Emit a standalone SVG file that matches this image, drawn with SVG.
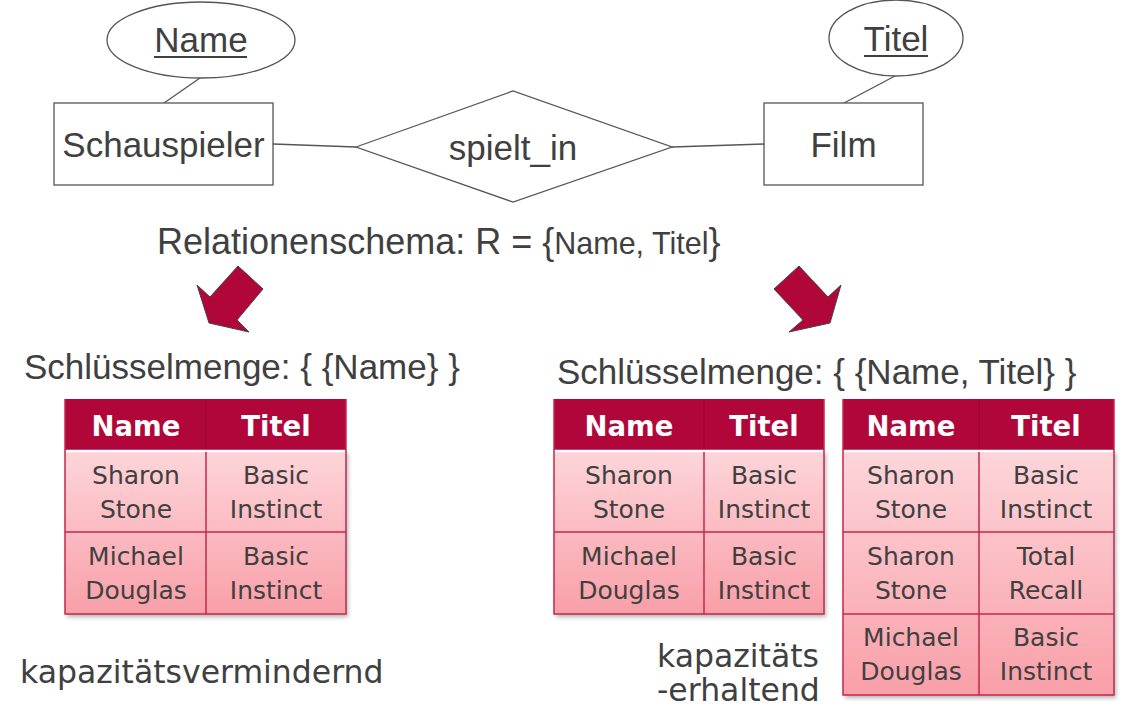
<svg xmlns="http://www.w3.org/2000/svg" width="1132" height="719" viewBox="0 0 1132 719">
<defs>
<style>
.er{fill:#fff;stroke:#555;stroke-width:1.3}
.ln{stroke:#555;stroke-width:1.3;fill:none}
.t{font-family:"Liberation Sans",Arial,sans-serif;fill:#404040}
.v{font-family:"DejaVu Sans",Verdana,sans-serif;fill:#404040}
.big{font-size:35px}
.hd{font-family:"DejaVu Sans",Verdana,sans-serif;font-weight:bold;font-size:27.5px;fill:#fff}
.cell{font-family:"DejaVu Sans",Verdana,sans-serif;font-size:25px;fill:#404040}
.hdr{fill:#b0063a}
.grid{stroke:#c4284f;stroke-width:1.5;fill:none}
.wl{stroke:#fff;stroke-width:2.5}
.arr{fill:#b0063a;stroke:#444;stroke-width:1}
</style>
<linearGradient id="body" x1="0" y1="0" x2="0" y2="1">
<stop offset="0" stop-color="#fdd6da"/>
<stop offset="1" stop-color="#f99fa8"/>
</linearGradient>
<filter id="sh" x="-5%" y="-5%" width="115%" height="115%">
<feDropShadow dx="2" dy="3" stdDeviation="2" flood-color="#000" flood-opacity="0.3"/>
</filter>
</defs>
<rect width="1132" height="719" fill="#fff"/>

<g id="connectors">
<line class="ln" x1="200" y1="78" x2="164" y2="103"/>
<line class="ln" x1="273" y1="144" x2="356" y2="147"/>
<line class="ln" x1="672" y1="147" x2="764" y2="144"/>
<line class="ln" x1="895" y1="76" x2="844" y2="103"/>
</g>

<g id="attr-name">
<ellipse class="er" cx="201" cy="40" rx="94" ry="38"/>
<text class="t big" x="201" y="52" text-anchor="middle">Name</text>
<line x1="154" y1="57" x2="247" y2="57" stroke="#404040" stroke-width="2"/>
</g>
<g id="entity-schauspieler">
<rect class="er" x="54" y="103" width="219" height="82"/>
<text class="t big" x="163.5" y="157" text-anchor="middle">Schauspieler</text>
</g>
<g id="rel-spielt_in">
<polygon class="er" points="356,147 513,91 672,147 513,202"/>
<text class="t big" x="513" y="160" text-anchor="middle">spielt_in</text>
</g>
<g id="entity-film">
<rect class="er" x="764" y="103" width="159" height="82"/>
<text class="t big" x="843.5" y="157" text-anchor="middle">Film</text>
</g>
<g id="attr-titel">
<ellipse class="er" cx="896" cy="38" rx="67" ry="38"/>
<text class="t big" x="896" y="51" text-anchor="middle">Titel</text>
<line x1="864" y1="56" x2="928" y2="56" stroke="#404040" stroke-width="2"/>
</g>

<g id="schema">
<text class="t" x="157" y="254" font-size="36">Relationenschema: R = {<tspan font-size="30.5">Name, Titel</tspan>}</text>
</g>

<g id="arrow-left">
<polygon class="arr" points="238,266 263,289 237,320 249,332 209,323 197,285 210,297"/>
</g>
<g id="arrow-right">
<polygon class="arr" points="799,266 774,289 803,320 789,332 830,323 841,285 828,297"/>
</g>

<g id="key-left">
<text class="t big" x="24" y="379">Schlüsselmenge: { {Name} }</text>
</g>
<g id="key-right">
<text class="t big" x="557" y="384">Schlüsselmenge: { {Name, Titel} }</text>
</g>

<g id="table1">
<g filter="url(#sh)">
<rect x="65" y="450" width="281" height="164" fill="url(#body)"/>
</g>
<rect class="hdr" x="65" y="399" width="281" height="51"/>
<line x1="206" y1="399" x2="206" y2="450" stroke="#9a0532" stroke-width="1"/>
<line class="wl" x1="66" y1="451" x2="345" y2="451"/>
<path class="grid" d="M65,399V614H346V399M206,452V614M65,532H346"/>
<text class="hd" x="136" y="436" text-anchor="middle">Name</text>
<text class="hd" x="276" y="436" text-anchor="middle">Titel</text>
<text class="cell" x="136" y="484" text-anchor="middle">Sharon</text>
<text class="cell" x="136" y="518" text-anchor="middle">Stone</text>
<text class="cell" x="276" y="484" text-anchor="middle">Basic</text>
<text class="cell" x="276" y="518" text-anchor="middle">Instinct</text>
<text class="cell" x="136" y="565" text-anchor="middle">Michael</text>
<text class="cell" x="136" y="599" text-anchor="middle">Douglas</text>
<text class="cell" x="276" y="565" text-anchor="middle">Basic</text>
<text class="cell" x="276" y="599" text-anchor="middle">Instinct</text>
</g>

<g id="table2">
<g filter="url(#sh)">
<rect x="554" y="450" width="270" height="164" fill="url(#body)"/>
</g>
<rect class="hdr" x="554" y="399" width="270" height="51"/>
<line x1="704" y1="399" x2="704" y2="450" stroke="#9a0532" stroke-width="1"/>
<line class="wl" x1="555" y1="451" x2="823" y2="451"/>
<path class="grid" d="M554,399V614H824V399M704,452V614M554,532H824"/>
<text class="hd" x="629" y="436" text-anchor="middle">Name</text>
<text class="hd" x="764" y="436" text-anchor="middle">Titel</text>
<text class="cell" x="629" y="484" text-anchor="middle">Sharon</text>
<text class="cell" x="629" y="518" text-anchor="middle">Stone</text>
<text class="cell" x="764" y="484" text-anchor="middle">Basic</text>
<text class="cell" x="764" y="518" text-anchor="middle">Instinct</text>
<text class="cell" x="629" y="565" text-anchor="middle">Michael</text>
<text class="cell" x="629" y="599" text-anchor="middle">Douglas</text>
<text class="cell" x="764" y="565" text-anchor="middle">Basic</text>
<text class="cell" x="764" y="599" text-anchor="middle">Instinct</text>
</g>

<g id="table3">
<g filter="url(#sh)">
<rect x="843" y="450" width="271" height="245" fill="url(#body)"/>
</g>
<rect class="hdr" x="843" y="399" width="271" height="51"/>
<line x1="979" y1="399" x2="979" y2="450" stroke="#9a0532" stroke-width="1"/>
<line class="wl" x1="844" y1="451" x2="1113" y2="451"/>
<path class="grid" d="M843,399V695H1114V399M979,452V695M843,532H1114M843,614H1114"/>
<text class="hd" x="911" y="436" text-anchor="middle">Name</text>
<text class="hd" x="1046" y="436" text-anchor="middle">Titel</text>
<text class="cell" x="911" y="484" text-anchor="middle">Sharon</text>
<text class="cell" x="911" y="518" text-anchor="middle">Stone</text>
<text class="cell" x="1046" y="484" text-anchor="middle">Basic</text>
<text class="cell" x="1046" y="518" text-anchor="middle">Instinct</text>
<text class="cell" x="911" y="565" text-anchor="middle">Sharon</text>
<text class="cell" x="911" y="599" text-anchor="middle">Stone</text>
<text class="cell" x="1046" y="565" text-anchor="middle">Total</text>
<text class="cell" x="1046" y="599" text-anchor="middle">Recall</text>
<text class="cell" x="911" y="646" text-anchor="middle">Michael</text>
<text class="cell" x="911" y="680" text-anchor="middle">Douglas</text>
<text class="cell" x="1046" y="646" text-anchor="middle">Basic</text>
<text class="cell" x="1046" y="680" text-anchor="middle">Instinct</text>
</g>

<g id="label-left">
<text class="v" x="20" y="683" font-size="31.5">kapazitätsvermindernd</text>
</g>
<g id="label-right">
<text class="v" x="657" y="667" font-size="31.5">kapazitäts</text>
<text class="v" x="657" y="701" font-size="31.5">-erhaltend</text>
</g>
</svg>
